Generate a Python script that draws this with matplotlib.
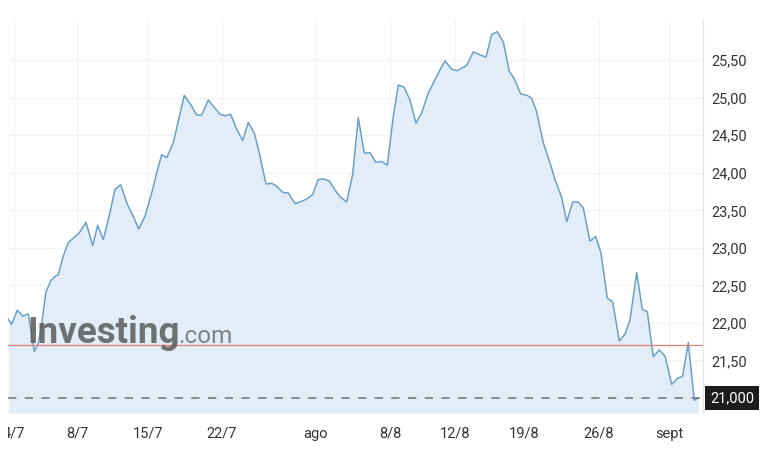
import matplotlib
matplotlib.use("Agg")
import matplotlib.pyplot as plt
from matplotlib.transforms import Bbox, TransformedBbox, offset_copy

# ---- data (x = session position, y = price) ----
x_pos = [8.3, 11.7, 17.3, 22.7, 28.3, 34.3, 38.3, 41.7, 45.7, 50.7, 55, 58.3, 63.3, 68.3, 73.3,
         79.3, 86, 92.7, 97.7, 103.3, 110, 115, 120.7, 127.3, 133.3, 138.7, 145, 151.7, 156.7,
         161.7, 166.7, 173.3, 184.3, 190.7, 196.7, 201.7, 208.3, 215, 220, 225, 230.7, 236.7,
         242.7, 248.3, 254.3, 260, 266, 271.7, 276.7, 282.7, 288.3, 295, 300, 306.7, 312.7,
         318.3, 323.3, 329.3, 335, 340, 346.7, 352.7, 358.3, 364.3, 370, 375.7, 381.7, 387.3,
         393.3, 398.3, 404, 410, 416, 421.7, 428.3, 435, 440, 445, 451.7, 457.3, 466.7, 473.3,
         480, 486, 491.7, 497.3, 503.3, 509.3, 514, 520.7, 527.3, 531.7, 536.7, 543.3, 550,
         555, 561.7, 566.7, 572.7, 578.3, 583.3, 590, 595.7, 601, 607.3, 612.7, 619.3, 625,
         630, 636.7, 642.3, 647.3, 653.3, 659.3, 665, 671.7, 677.3, 682.7, 688.3, 694.3, 698.3]
price = [22.05, 21.98, 22.17, 22.09, 22.12, 21.62, 21.73, 21.98, 22.40, 22.56, 22.62, 22.64,
         22.89, 23.07, 23.13, 23.20, 23.34, 23.03, 23.30, 23.11, 23.47, 23.78, 23.84, 23.58,
         23.42, 23.25, 23.42, 23.73, 24.00, 24.24, 24.20, 24.40, 25.03, 24.91, 24.77, 24.77,
         24.97, 24.86, 24.78, 24.76, 24.78, 24.58, 24.43, 24.67, 24.53, 24.22, 23.85, 23.86,
         23.82, 23.74, 23.73, 23.59, 23.61, 23.65, 23.71, 23.91, 23.92, 23.89, 23.77, 23.68,
         23.61, 23.98, 24.73, 24.26, 24.27, 24.14, 24.15, 24.10, 24.75, 25.17, 25.14, 24.97,
         24.66, 24.80, 25.06, 25.24, 25.37, 25.49, 25.38, 25.36, 25.43, 25.61, 25.57, 25.54,
         25.84, 25.88, 25.74, 25.35, 25.26, 25.05, 25.03, 24.99, 24.81, 24.40, 24.13, 23.91,
         23.67, 23.35, 23.61, 23.61, 23.53, 23.09, 23.15, 22.93, 22.33, 22.28, 21.76, 21.85,
         22.04, 22.67, 22.18, 22.15, 21.55, 21.64, 21.56, 21.18, 21.26, 21.29, 21.74, 20.97,
         21.00]

xtick_pos = [14, 77, 148, 222, 316, 390, 455, 524, 599, 669]
xtick_labels = ["4/7", "8/7", "15/7", "22/7", "ago", "8/8", "12/8", "19/8", "26/8", "sept"]
ytick_vals = [21.5, 22.0, 22.5, 23.0, 23.5, 24.0, 24.5, 25.0, 25.5]
ref_level = 21.70
last_price = 21.00
last_label = "21,000"

plt.rcParams['font.family'] = ['Roboto', 'DejaVu Sans']

fig = plt.figure(figsize=(7.64, 4.5), dpi=100)
W, H = 764, 450
ax = fig.add_axes([8 / W, (H - 413) / H, (703 - 8) / W, (413 - 20) / H])

ymin, ymax = 20.80, 26.035
ax.set_xlim(8, 703)
ax.set_ylim(ymin, ymax)

line_c = "#6a9fc9"
ax.fill_between(x_pos, price, ymin, color="#e3edf7", zorder=1, linewidth=0)
ax.plot(x_pos, price, color=line_c, linewidth=1.1, zorder=3)

ax.axhline(ref_level, color="#e57c7c", linewidth=0.9, zorder=4)
ax.axhline(last_price, color="#7a7a7a", linewidth=1.2, linestyle=(0, (5, 5)), zorder=4)

# grid
for yv in ytick_vals:
    ax.axhline(yv, color="#eef1f5", linewidth=0.8, zorder=0.5)
for xv in xtick_pos:
    ax.axvline(xv, color="#eef1f5", linewidth=0.8, zorder=0.5)

for s in ["top", "left", "bottom"]:
    ax.spines[s].set_visible(False)
ax.spines["right"].set_color("#e2e5ea")
ax.spines["right"].set_linewidth(0.9)

ax.set_xticks(xtick_pos)
ax.set_xticklabels(xtick_labels)
ax.tick_params(axis="x", length=0, pad=10, labelsize=10.5, labelcolor="#333333")

ax.yaxis.tick_right()
ax.set_yticks(ytick_vals)
ax.set_yticklabels([f"{v:.2f}".replace(".", ",") for v in ytick_vals])
ax.tick_params(axis="y", length=0, pad=6, labelsize=10.5, labelcolor="#333333")

# clip the first x label at the plot's left edge
clip = TransformedBbox(Bbox([[8 / W, 0], [1, 1]]), fig.transFigure)
for lab in ax.get_xticklabels():
    lab.set_clip_box(clip)
    lab.set_clip_on(True)

# last price label
tr = offset_copy(ax.get_yaxis_transform(), fig=fig, x=7, y=0, units="dots")
ax.text(1.0, last_price, last_label, transform=tr,
        ha="left", va="center", fontsize=10.5, color="white", zorder=6,
        bbox=dict(boxstyle="square,pad=0.35", facecolor="#1c1c1c", edgecolor="none"),
        clip_on=False)

# watermark
fig.text(27 / W, (H - 343) / H, "Investing", fontsize=26.5, fontweight="bold",
         color="#5a5a5a", alpha=0.85, ha="left", va="baseline", zorder=10)
fig.text(178 / W, (H - 343) / H, ".com", fontsize=17.5, color="#6e6e6e",
         alpha=0.85, ha="left", va="baseline", zorder=10)

fig.savefig("out.png", dpi=100, facecolor="white")
